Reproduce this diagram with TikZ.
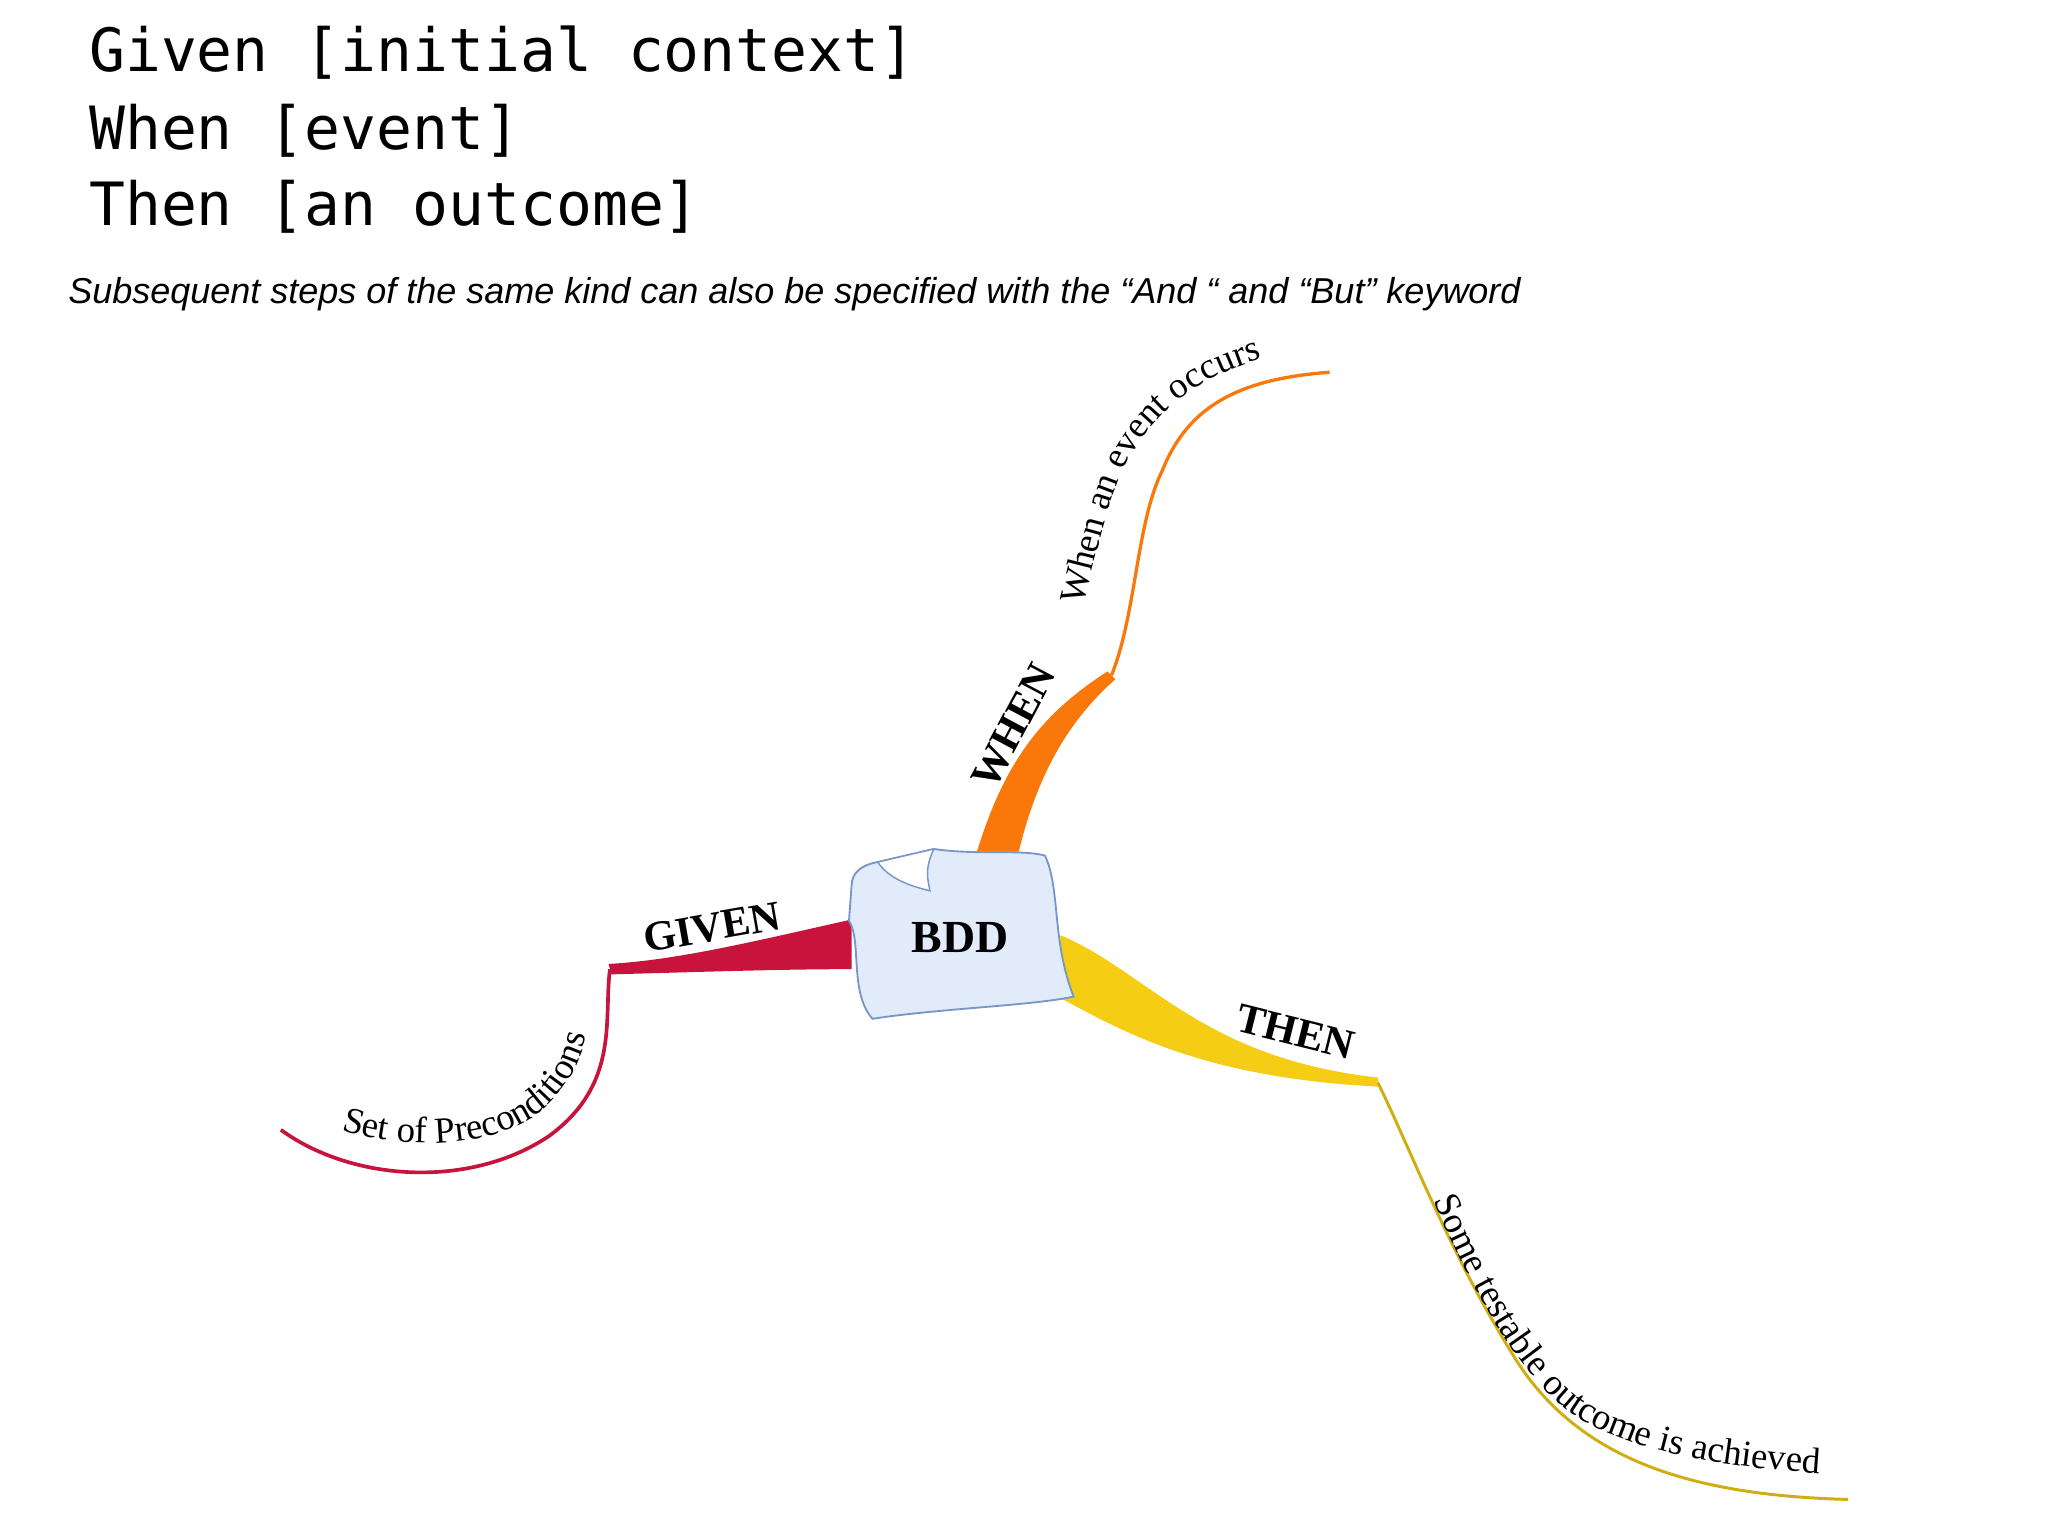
\documentclass[tikz,border=0pt]{standalone}
\usepackage{fontspec}
\setmainfont{Liberation Serif}
\setsansfont{Liberation Sans}
\setmonofont{DejaVu Sans Mono}
\usetikzlibrary{decorations.text}
\definecolor{gred}{RGB}{200,20,60}
\definecolor{worange}{RGB}{250,120,10}
\definecolor{tyellow}{RGB}{245,205,20}
\definecolor{boxfill}{RGB}{225,235,250}
\definecolor{boxline}{RGB}{120,150,200}
\begin{document}
\begin{tikzpicture}[x=0.25mm,y=-0.25mm,
  mono/.style={font=\fontsize{32.5}{38}\selectfont\ttfamily,anchor=west,inner sep=0},
  keyw/.style={font=\fontsize{23}{26}\selectfont\rmfamily\bfseries,inner sep=0},
  along/.style={decorate,decoration={text along path,text align=center,
     text={|\fontsize{20}{22}\selectfont\rmfamily|#1}}}]
\useasboundingbox[fill=white] (0,0) rectangle (1568,1176);
\node[mono] (l1) at (68,40) {Given [initial context]};
\node[mono] (l2) at (68,100) {When [event]};
\node[mono] (l3) at (68,158) {Then [an outcome]};
\node[anchor=west,inner sep=0,font=\fontsize{19.6}{22}\selectfont\sffamily\itshape] (note) at (52,225)
  {Subsequent steps of the same kind can also be specified with the “And “ and “But” keyword};
% GIVEN branch
\fill[gred] (652,704) .. controls (580,720) and (520,735) .. (466,738) -- (468,746) .. controls (540,744) and (600,742) .. (652,742) -- cycle;
\draw[gred,line width=2pt] (467,742) .. controls (462,780) and (475,830) .. (420,870) .. controls (360,910) and (270,905) .. (215,865);
\node[keyw,rotate=10] (given) at (545,710) {GIVEN};
\path[along={Set of Preconditions}] (235,855) .. controls (300,885) and (380,880) .. (415,850) .. controls (445,822) and (448,800) .. (455,765);
% WHEN branch
\fill[worange] (748,652) .. controls (770,580) and (800,545) .. (848,514) -- (854,520) .. controls (820,550) and (795,590) .. (780,652) -- cycle;
\draw[worange,line width=1.8pt] (851,517) .. controls (870,470) and (870,400) .. (890,360) .. controls (910,310) and (950,290) .. (1018,285);
\node[keyw,rotate=62] (when) at (776,556) {WHEN};
\path[along={When an event occurs}] (822,492) .. controls (842,420) and (848,370) .. (875,335) .. controls (900,300) and (940,278) .. (995,268);
% THEN branch
\fill[tyellow] (812,716) .. controls (880,745) and (920,810) .. (1055,825) -- (1056,832) .. controls (920,825) and (860,790) .. (808,762) -- cycle;
\draw[tyellow!85!black,line width=1.6pt] (1055,829) .. controls (1080,880) and (1110,960) .. (1160,1040) .. controls (1210,1120) and (1300,1145) .. (1415,1148);
\node[keyw,rotate=-14] (then) at (992,790) {THEN};
\path[along={Some testable outcome is achieved}] (1085,890) .. controls (1115,960) and (1150,1040) .. (1200,1080) .. controls (1250,1115) and (1330,1125) .. (1425,1130);
% BDD note
\draw[boxline,fill=boxfill,line width=1pt] (652,678) .. controls (652,668) and (660,662) .. (672,660) -- (715,650) .. controls (750,655) and (780,650) .. (800,655) .. controls (812,680) and (805,720) .. (822,763) .. controls (790,770) and (720,772) .. (668,780) .. controls (650,760) and (660,720) .. (650,705) -- cycle;
\draw[boxline,fill=white,line width=0.8pt] (672,660) -- (715,650) .. controls (708,665) and (710,672) .. (712,682) .. controls (695,678) and (680,672) .. cycle;
\node[font=\fontsize{25}{28}\selectfont\rmfamily\bfseries] (bdd) at (735,718) {BDD};
\end{tikzpicture}
\end{document}
